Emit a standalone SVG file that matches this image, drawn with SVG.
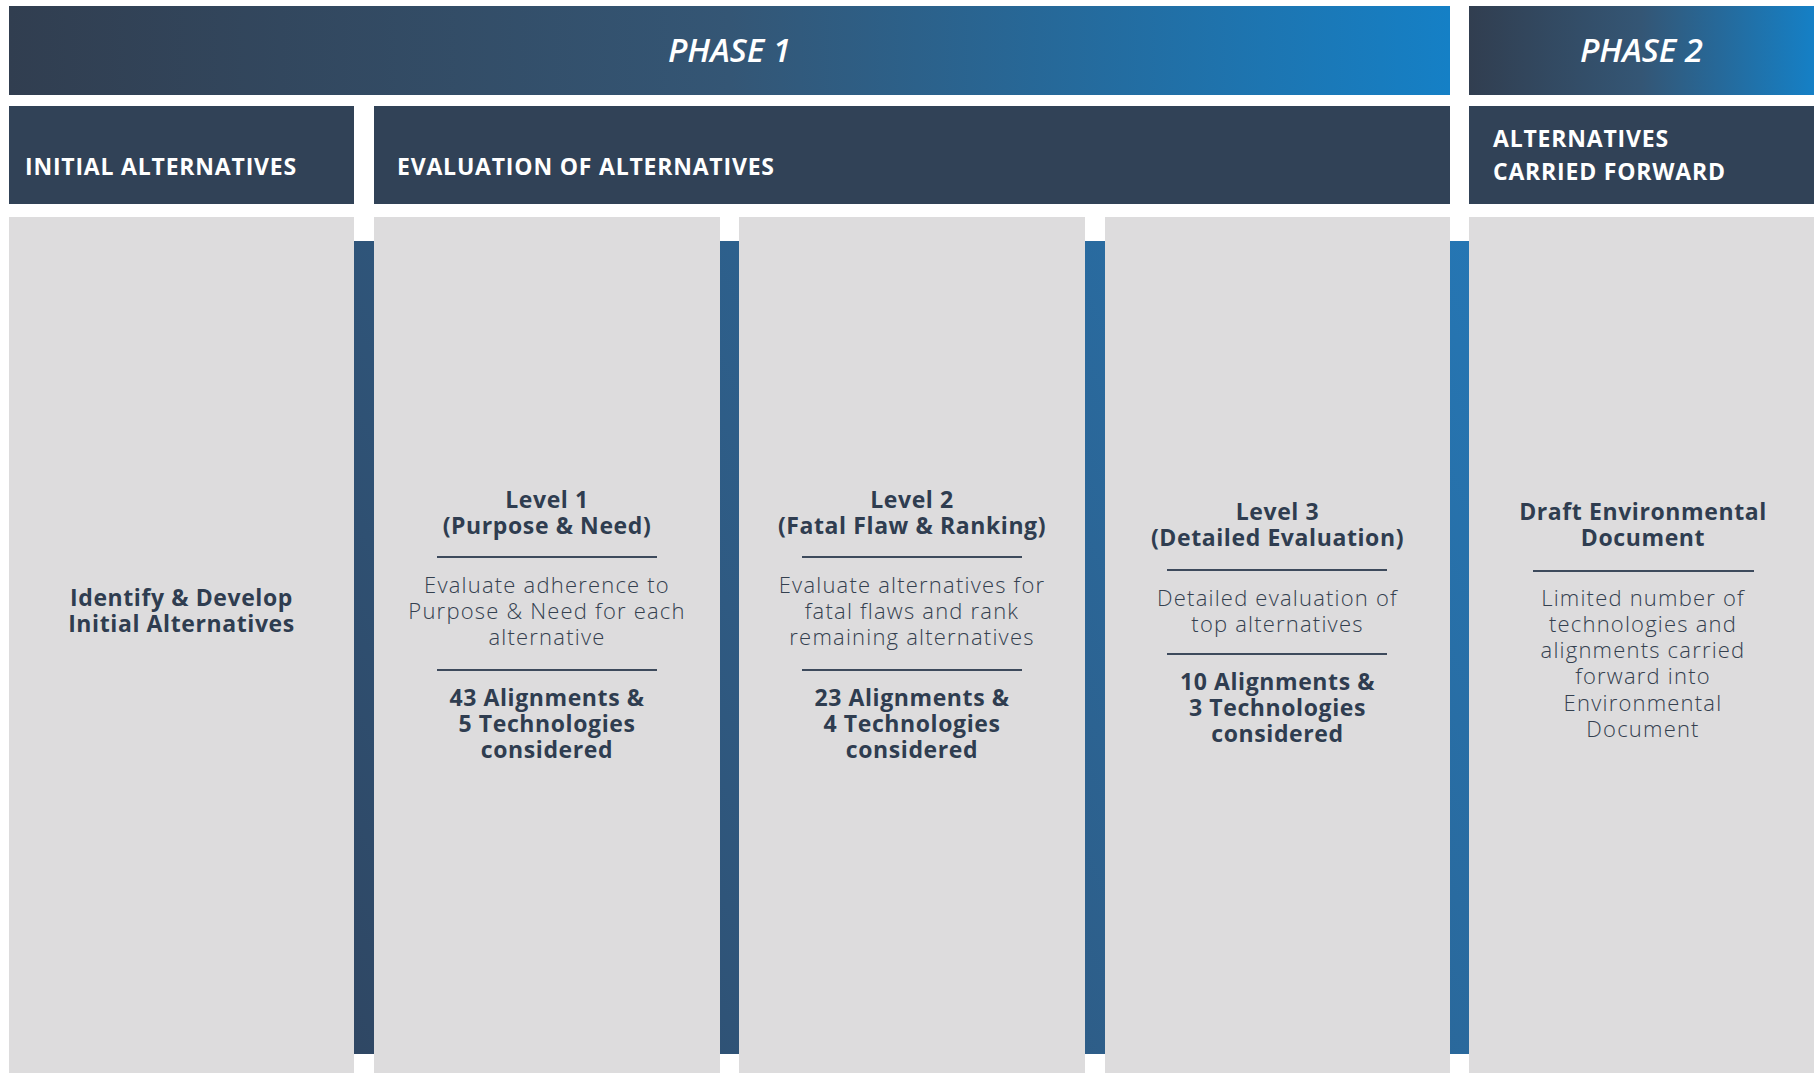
<svg xmlns="http://www.w3.org/2000/svg" width="1814" height="1073" viewBox="0 0 1814 1073">
<defs>
<linearGradient id="gPhase" x1="0" y1="0" x2="1" y2="0">
<stop offset="0" stop-color="#313e50"/>
<stop offset="0.5" stop-color="#345675"/>
<stop offset="1" stop-color="#1580c6"/>
</linearGradient>
<linearGradient id="gBar" gradientUnits="userSpaceOnUse" x1="0" y1="1053" x2="1500" y2="241">
<stop offset="0" stop-color="#2f3c52"/>
<stop offset="0.5" stop-color="#2f5a82"/>
<stop offset="1" stop-color="#2577b5"/>
</linearGradient>
<style>
.hdr{fill:#314257}
.col{fill:#dddcdd}
.bar{fill:url(#gBar)}
.ph{font-family:"Open Sans","Liberation Sans",sans-serif;font-style:italic;font-weight:600;font-size:33px;fill:#ffffff;text-anchor:middle}
.ht{font-family:"Open Sans","Liberation Sans",sans-serif;font-weight:700;font-size:23px;fill:#ffffff;letter-spacing:0.8px}
.b{font-family:"Open Sans","Liberation Sans",sans-serif;font-weight:700;font-size:23px;fill:#2f3d50;text-anchor:middle;letter-spacing:0.6px}
.d{font-family:"Open Sans","Liberation Sans",sans-serif;font-weight:300;font-size:22px;fill:#34404f;text-anchor:middle;letter-spacing:1.2px}
.rule{stroke:#3d4a5c;stroke-width:2}
</style>
</defs>
<g id="phase1"><rect x="9" y="6" width="1441" height="89" fill="url(#gPhase)"/><text class="ph" x="729.5" y="62">PHASE 1</text></g>
<g id="phase2"><rect x="1469" y="6" width="345" height="89" fill="url(#gPhase)"/><text class="ph" x="1641.5" y="62">PHASE 2</text></g>
<g id="hdr-initial"><rect class="hdr" x="9" y="106" width="345" height="98"/><text class="ht" x="25" y="175">INITIAL ALTERNATIVES</text></g>
<g id="hdr-eval"><rect class="hdr" x="374" y="106" width="1076" height="98"/><text class="ht" x="397" y="175">EVALUATION OF ALTERNATIVES</text></g>
<g id="hdr-forward"><rect class="hdr" x="1469" y="106" width="345" height="98"/><text class="ht" x="1493" y="147">ALTERNATIVES</text><text class="ht" x="1493" y="180">CARRIED FORWARD</text></g>
<g id="connectors">
<rect class="bar" x="354" y="241" width="20" height="813"/>
<rect class="bar" x="720" y="241" width="19" height="813"/>
<rect class="bar" x="1085" y="241" width="20" height="813"/>
<rect class="bar" x="1450" y="241" width="19" height="813"/>
</g>
<g id="col-initial"><rect class="col" x="9" y="217" width="345" height="856"/>
<text class="b" x="181.5" y="606">Identify &amp; Develop</text><text class="b" x="181.5" y="632">Initial Alternatives</text></g>
<g id="col-level1"><rect class="col" x="374" y="217" width="346" height="856"/>
<text class="b" x="547" y="508">Level 1</text><text class="b" x="547" y="534">(Purpose &amp; Need)</text>
<line class="rule" x1="437" y1="557" x2="657" y2="557"/>
<text class="d" x="547" y="593">Evaluate adherence to</text><text class="d" x="547" y="619">Purpose &amp; Need for each</text><text class="d" x="547" y="645">alternative</text>
<line class="rule" x1="437" y1="670" x2="657" y2="670"/>
<text class="b" x="547" y="706">43 Alignments &amp;</text><text class="b" x="547" y="732">5 Technologies</text><text class="b" x="547" y="758">considered</text></g>
<g id="col-level2"><rect class="col" x="739" y="217" width="346" height="856"/>
<text class="b" x="912" y="508">Level 2</text><text class="b" x="912" y="534">(Fatal Flaw &amp; Ranking)</text>
<line class="rule" x1="802" y1="557" x2="1022" y2="557"/>
<text class="d" x="912" y="593">Evaluate alternatives for</text><text class="d" x="912" y="619">fatal flaws and rank</text><text class="d" x="912" y="645">remaining alternatives</text>
<line class="rule" x1="802" y1="670" x2="1022" y2="670"/>
<text class="b" x="912" y="706">23 Alignments &amp;</text><text class="b" x="912" y="732">4 Technologies</text><text class="b" x="912" y="758">considered</text></g>
<g id="col-level3"><rect class="col" x="1105" y="217" width="345" height="856"/>
<text class="b" x="1277.5" y="520">Level 3</text><text class="b" x="1277.5" y="546">(Detailed Evaluation)</text>
<line class="rule" x1="1167" y1="570" x2="1387" y2="570"/>
<text class="d" x="1277.5" y="606">Detailed evaluation of</text><text class="d" x="1277.5" y="632">top alternatives</text>
<line class="rule" x1="1167" y1="654" x2="1387" y2="654"/>
<text class="b" x="1277.5" y="690">10 Alignments &amp;</text><text class="b" x="1277.5" y="716">3 Technologies</text><text class="b" x="1277.5" y="742">considered</text></g>
<g id="col-forward"><rect class="col" x="1469" y="217" width="345" height="856"/>
<text class="b" x="1643" y="520">Draft Environmental</text><text class="b" x="1643" y="546">Document</text>
<line class="rule" x1="1533" y1="571" x2="1754" y2="571"/>
<text class="d" x="1643" y="606">Limited number of</text><text class="d" x="1643" y="632">technologies and</text><text class="d" x="1643" y="658">alignments carried</text><text class="d" x="1643" y="684">forward into</text><text class="d" x="1643" y="711">Environmental</text><text class="d" x="1643" y="737">Document</text></g>
</svg>
